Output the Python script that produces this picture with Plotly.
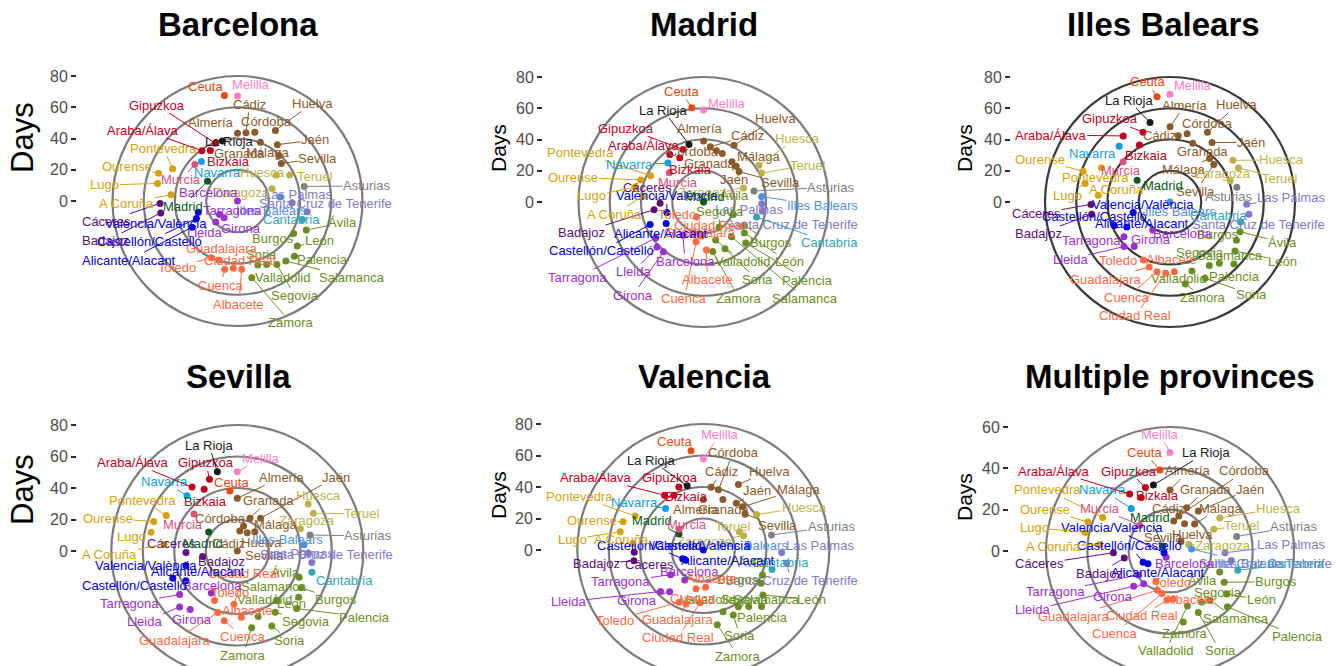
import math
import plotly.graph_objects as go

W, H = 1338, 666
FONT = "Liberation Sans, Arial, Helvetica, sans-serif"

# ---------------- categories (theta order of the polar chart) ----------------
provinces = ["Almería", "Cádiz", "Córdoba", "Granada", "Huelva", "Jaén", "Málaga", "Sevilla",
             "Huesca", "Teruel", "Zaragoza", "Asturias", "Illes Balears", "Las Palmas",
             "Santa Cruz de Tenerife", "Cantabria", "Ávila", "Burgos", "León", "Palencia",
             "Salamanca", "Segovia", "Soria", "Valladolid", "Zamora", "Albacete", "Ciudad Real",
             "Cuenca", "Guadalajara", "Toledo", "Barcelona", "Girona", "Lleida", "Tarragona",
             "Alicante/Alacant", "Castellón/Castelló", "Valencia/València", "Badajoz", "Cáceres",
             "A Coruña", "Lugo", "Ourense", "Pontevedra", "Madrid", "Murcia", "Navarra",
             "Araba/Álava", "Bizkaia", "Gipuzkoa", "La Rioja", "Ceuta", "Melilla"]
community = (["Andalucía"] * 8 + ["Aragón"] * 3 + ["Asturias", "Balears", "Canarias", "Canarias", "Cantabria"]
             + ["CyL"] * 9 + ["CLM"] * 5 + ["Cataluña"] * 4 + ["CValenciana"] * 3 + ["Extremadura"] * 2
             + ["Galicia"] * 4 + ["Madrid", "Murcia", "Navarra"] + ["PaisVasco"] * 3
             + ["La Rioja", "Ceuta", "Melilla"])
community_colors = {
    "Andalucía": "#8b5a2b", "Aragón": "#bdb24a", "Asturias": "#808080", "Balears": "#4f8fe6",
    "Canarias": "#8179c9", "Cantabria": "#35a5b8", "CyL": "#6b8e23", "CLM": "#ff6a45",
    "Cataluña": "#9b30d0", "CValenciana": "#0000e0", "Extremadura": "#5c1077", "Galicia": "#d4a20e",
    "Madrid": "#0b5a1b", "Murcia": "#e2507e", "Navarra": "#109de8", "PaisVasco": "#c0001c",
    "La Rioja": "#1a1a1a", "Ceuta": "#e84a10", "Melilla": "#ff7fc6",
}

# ---------------- values: days (radius) per panel, in the order above ----------------
days_barcelona = [43.3, 44.0, 45.4, 40.4, 51.3, 44.2, 39.4, 36.9, 29.8, 37.3, 23.5, 43.7, 27.5, 35.0,
                  45.2, 43.2, 47.8, 41.5, 47.9, 50.8, 49.3, 47.8, 44.7, 42.9, 49.9, 43.8, 43.1, 44.5,
                  39.6, 39.9, 0.0, 13.7, 19.4, 14.4, 33.6, 28.6, 26.1, 49.7, 49.6, 42.7, 52.4, 53.6,
                  46.4, 23.0, 36.0, 34.3, 39.5, 36.7, 39.7, 39.6, 68.0, 67.2]
days_madrid = [39.0, 35.7, 33.9, 33.3, 41.2, 31.5, 31.0, 29.9, 42.5, 41.5, 27.1, 33.1, 37.4, 37.3,
               38.3, 35.3, 20.6, 30.0, 32.8, 37.7, 28.6, 19.0, 32.9, 25.6, 32.3, 30.8, 21.8, 25.8,
               20.8, 10.6, 25.0, 40.9, 41.4, 38.3, 27.6, 37.1, 24.4, 32.0, 27.8, 39.0, 44.8, 42.6,
               37.8, 0.0, 28.8, 33.8, 37.3, 32.1, 36.1, 38.0, 60.8, 58.9]
days_baleares = [48.2, 42.8, 45.0, 40.3, 50.6, 46.6, 37.6, 36.9, 48.3, 48.9, 40.8, 43.8, 0.0, 49.1,
                 51.1, 47.0, 48.7, 49.1, 52.1, 57.0, 50.4, 47.8, 53.7, 46.3, 53.4, 44.7, 45.7, 45.4,
                 43.7, 40.9, 21.1, 36.6, 41.0, 36.9, 31.9, 38.7, 24.5, 50.7, 50.6, 46.1, 55.7, 59.0,
                 49.0, 25.2, 39.5, 48.3, 51.8, 41.4, 47.9, 52.4, 67.9, 68.9]
days_sevilla = [33.5, 12.8, 16.3, 22.3, 13.2, 25.5, 16.5, 0.0, 54.0, 53.9, 42.5, 47.3, 42.5, 45.1,
                47.9, 49.2, 42.7, 46.7, 48.8, 52.5, 40.6, 45.7, 52.4, 43.7, 49.6, 42.2, 33.8, 45.0,
                41.0, 34.6, 31.4, 47.7, 51.0, 45.9, 37.7, 44.5, 33.9, 22.3, 32.6, 46.7, 56.0, 56.3,
                50.4, 21.8, 36.2, 47.4, 49.7, 44.5, 48.9, 51.9, 38.4, 50.3]
days_valencia = [32.0, 40.2, 39.4, 34.4, 47.2, 36.3, 37.1, 35.0, 40.7, 25.6, 27.1, 44.3, 28.7, 49.8,
                 53.5, 45.4, 40.8, 42.3, 47.5, 51.6, 46.0, 42.3, 45.5, 41.2, 48.3, 23.7, 33.5, 25.1,
                 35.9, 36.5, 22.4, 34.1, 37.8, 26.0, 12.9, 14.2, 0.0, 44.6, 43.9, 45.0, 54.0, 54.0,
                 48.3, 18.5, 20.2, 35.6, 42.6, 39.4, 42.9, 42.0, 63.5, 57.8]
days_multiple = [29.5, 14.6, 17.4, 22.5, 14.9, 23.7, 17.7, 7.0, 28.9, 23.7, 9.6, 33.0, 10.5, 26.6,
                 30.0, 34.1, 26.1, 30.3, 34.5, 38.7, 30.6, 29.0, 32.8, 27.9, 35.0, 23.3, 23.8, 20.9,
                 19.9, 16.3, 3.6, 20.3, 24.5, 19.2, 12.3, 14.1, 3.0, 22.4, 27.4, 34.1, 42.0, 42.1,
                 36.4, 4.1, 19.2, 27.8, 33.8, 29.4, 32.9, 32.9, 39.5, 47.7]

panel_titles = ["Barcelona", "Madrid", "Illes Balears", "Sevilla", "Valencia", "Multiple provinces"]
tick_values = [[0, 20, 40, 60, 80]] * 5 + [[0, 20, 40, 60]]
ring_values = [[20, 40, 60, 80]] * 5 + [[20, 40, 60]]

# ---------------- label placement (repelled label centres, page pixels) ----------------
labels_barcelona = [(210.5, 122.3), (249.7, 104.3), (266.7, 121.7), (240, 153), (312.5, 103.3), (315, 140),
                    (268, 153), (318, 158.3), (263, 173), (315, 176.7), (242, 192), (366.7, 186), (271, 210),
                    (298, 195), (325, 204), (292, 220), (342.5, 222.7), (273, 238.5), (319, 241), (323, 259.3),
                    (352, 277.7), (295, 296), (262, 255), (282.5, 277.7), (290.7, 322.7), (239, 304),
                    (240, 260), (221, 285), (222, 248.5), (177.5, 267.3), (208, 192), (241, 228.5),
                    (204, 232.3), (233, 210), (129, 260), (149, 241.7), (155.8, 223.3), (106, 241),
                    (106, 221.7), (126.7, 203.3), (104.7, 185), (126.7, 166.7), (163.3, 148.3), (183, 206),
                    (181, 180), (218, 173), (143.5, 130), (229, 161), (157, 105), (229, 142), (205.7, 86),
                    (251, 85)]
labels_madrid = [(699.5, 128.3), (748, 136), (693, 151.7), (709, 163.3), (775, 118.3), (734, 179.3),
                 (758.5, 156.7), (780, 182.7), (797, 138.3), (808, 165), (706, 192.7), (831, 187.3),
                 (822.5, 205.7), (749, 210), (791.7, 224), (830, 242.7), (735, 195), (771, 242.7),
                 (789, 261.7), (807.5, 280), (805, 298.3), (720, 211.7), (757.5, 280), (742.5, 261.7),
                 (739, 298.3), (707.5, 280), (710, 225), (684.5, 298.3), (700, 232.7), (676.5, 214),
                 (685, 261.7), (633, 295), (633.5, 271.7), (577.5, 277.3), (661, 233.3), (601.5, 250.7),
                 (667, 196), (581.5, 232.7), (648, 187.3), (614.5, 214), (592, 196), (573.5, 177.3),
                 (580.5, 152.7), (705, 196), (678, 182.7), (630, 165), (644, 146), (691, 169.3),
                 (626, 128.3), (663, 110), (681, 91.7), (726.5, 103.3)]
labels_baleares = [(1185, 105), (1159.5, 136), (1208, 123.3), (1202, 151.7), (1236.7, 105), (1251, 142.3),
                   (1183.5, 170), (1196, 191), (1281.7, 160), (1280, 178.3), (1223, 173.3), (1229, 196.7),
                   (1180, 211.7), (1291, 197.3), (1258.5, 224), (1218.5, 215), (1282.5, 242.7), (1218, 234),
                   (1283, 261), (1234, 276), (1230, 256), (1200, 252.3), (1251, 294.3), (1178.5, 278.3),
                   (1203.5, 297.7), (1171, 260), (1135, 316), (1126.7, 297.3), (1106.5, 279), (1117.5, 260),
                   (1182.5, 233.3), (1151, 240), (1070.5, 259), (1091, 240), (1142.5, 223.3), (1095, 216.7),
                   (1143, 204), (1038.5, 234), (1036.5, 214), (1116.5, 190), (1067.5, 196), (1040, 159.3),
                   (1095.5, 177.3), (1162.5, 186), (1121, 171), (1092, 153.3), (1050.8, 135), (1146, 155),
                   (1110, 119), (1128.5, 100), (1147.5, 81.7), (1193, 86)]
labels_sevilla = [(281.7, 477.3), (228, 543.3), (221, 518.3), (268, 500.7), (261.7, 542.7), (336, 477.3),
                  (275, 524.3), (264, 555), (318, 496), (362.5, 514), (307, 520.7), (368, 536), (288, 539.3),
                  (300, 553.3), (326, 555), (344.7, 580.7), (286, 572.7), (336, 599.3), (291, 603.3),
                  (365, 617.3), (273.5, 586), (306.5, 621.7), (290, 640.7), (264, 599), (243, 655),
                  (248, 610.7), (244, 574), (243, 636.7), (175.5, 640), (230, 592.7), (212, 585),
                  (192.5, 620), (145, 621.7), (129, 603.3), (198, 571.7), (134, 585), (146, 565.7),
                  (222, 561.7), (171, 543.3), (110, 555), (132, 536.7), (107.5, 518.3), (143, 500),
                  (203, 543.3), (183, 524.3), (164, 481.7), (132.8, 462.7), (206, 501.7), (206, 462.7),
                  (209, 445), (231.7, 482.3), (261.3, 458.3)]
labels_valencia = [(696, 509.3), (722, 471.7), (733, 452.7), (724, 509.3), (769, 471), (757, 490.7),
                   (798, 489.3), (778, 526), (804, 507.3), (733, 526), (705, 541.7), (831, 526.7), (752, 545),
                   (820, 545), (791, 580.7), (780, 562.7), (752, 562.7), (738, 580), (812, 599.3),
                   (763, 617.3), (767, 599.3), (745, 599.3), (740, 636), (708, 599.3), (738, 656),
                   (711, 578.3), (678, 637.7), (693, 598.3), (678, 620), (615, 620), (689, 571.7), (637, 601),
                   (568, 601.7), (621, 581.7), (728, 560), (650, 545), (700, 545), (596, 564), (650, 564),
                   (621, 539.3), (572, 539.3), (592, 520.7), (580, 496.7), (652, 520.7), (687, 525),
                   (634, 502.7), (596, 477.7), (687, 496.7), (670, 477.7), (651, 460), (674, 441.7),
                   (720, 434.3)]
labels_multiple = [(1188, 471), (1168, 508.3), (1245, 471), (1206, 489.3), (1193, 534.3), (1250, 489.3),
                   (1220, 508.3), (1163.5, 537.7), (1278.5, 508.3), (1242.5, 526), (1223, 545), (1294, 526.7),
                   (1250, 563.3), (1291, 545), (1265, 563.3), (1296, 563.3), (1202.5, 580), (1276, 581.7),
                   (1261, 600), (1297.5, 636.7), (1236, 618.3), (1218, 592.7), (1220, 650.7), (1165.5, 650.7),
                   (1185, 633.3), (1190, 599.3), (1142, 616), (1115, 633.3), (1074, 616), (1172, 582.7),
                   (1185, 563.3), (1113, 596.7), (1032.5, 610), (1055, 591.7), (1158.5, 572.3),
                   (1130, 545.7), (1112, 527.7), (1099, 573.3), (1039.5, 564), (1053, 546), (1034, 527.7),
                   (1045, 509.3), (1047.5, 490), (1150, 517.3), (1100, 508.3), (1102.5, 490), (1054.5, 471),
                   (1157.5, 495.7), (1129, 471), (1206, 452.7), (1144.5, 452.3), (1160, 434.3)]

# ---------------- panel geometry (pixels) ----------------
panel_geom = [
    dict(cx=237.5, cy=201, s=1.5625, axis_x=77, ytop=40, ybot=345, ring="#7b7b7b", title_y=25,
         days_xy=(22, 138), days_size=31),
    dict(cx=703.5, cy=202, s=1.5625, axis_x=543, ytop=40, ybot=345, ring="#7b7b7b", title_y=25,
         days_xy=(498, 148), days_size=21),
    dict(cx=1170, cy=202, s=1.5625, axis_x=1011, ytop=40, ybot=345, ring="#3a3a3a", title_y=25,
         days_xy=(964, 148), days_size=21),
    dict(cx=237.3, cy=551, s=1.575, axis_x=77, ytop=395, ybot=666, ring="#7b7b7b", title_y=376,
         days_xy=(22, 490), days_size=31),
    dict(cx=703.3, cy=550, s=1.575, axis_x=542, ytop=395, ybot=666, ring="#7b7b7b", title_y=376,
         days_xy=(498, 495), days_size=21),
    dict(cx=1170, cy=551, s=2.067, axis_x=1009, ytop=395, ybot=666, ring="#7b7b7b", title_y=376,
         days_xy=(964, 497), days_size=21),
]
title_x = [238, 704, 1163, 238, 704, 1170]

panel_days = [days_barcelona, days_madrid, days_baleares, days_sevilla, days_valencia, days_multiple]
panel_labels = [labels_barcelona, labels_madrid, labels_baleares, labels_sevilla, labels_valencia,
                labels_multiple]

colors = [community_colors[c] for c in community]
n = len(provinces)
theta = [math.radians(90 - i * 360.0 / (n - 1)) for i in range(n)]

fig = go.Figure()
layout = dict(width=W, height=H, margin=dict(l=0, r=0, t=0, b=0), paper_bgcolor="white",
              plot_bgcolor="rgba(0,0,0,0)", showlegend=False, font=dict(family=FONT))
shapes, annotations = [], []

for k in range(6):
    g = panel_geom[k]
    xa = "x" if k == 0 else f"x{k + 1}"
    ya = "y" if k == 0 else f"y{k + 1}"
    xkey = "xaxis" if k == 0 else f"xaxis{k + 1}"
    ykey = "yaxis" if k == 0 else f"yaxis{k + 1}"
    cx, cy, s = g["cx"], g["cy"], g["s"]
    half = cx - g["axis_x"]
    layout[xkey] = dict(domain=[g["axis_x"] / W, (cx + half) / W], range=[-half / s, half / s],
                        visible=False, anchor=ya, fixedrange=True)
    layout[ykey] = dict(domain=[1 - g["ybot"] / H, 1 - g["ytop"] / H],
                        range=[(cy - g["ybot"]) / s, (cy - g["ytop"]) / s], anchor=xa,
                        tickvals=tick_values[k], ticks="outside", ticklen=5, tickwidth=2,
                        tickcolor="#2e2340", tickfont=dict(size=16, color="#4d4d4d", family=FONT),
                        showgrid=False, zeroline=False, showline=False, fixedrange=True)
    for r in ring_values[k]:
        shapes.append(dict(type="circle", xref=xa, yref=ya, x0=-r, x1=r, y0=-r, y1=r,
                           line=dict(color=g["ring"], width=2.2), layer="below"))

    days = panel_days[k]
    xs = [d * math.cos(t) for d, t in zip(days, theta)]
    ys = [d * math.sin(t) for d, t in zip(days, theta)]
    fig.add_trace(go.Scatter(x=xs, y=ys, xaxis=xa, yaxis=ya, mode="markers",
                             marker=dict(size=7, color=colors, line=dict(width=0)),
                             text=provinces, hoverinfo="text", cliponaxis=False))

    for i in range(n):
        px = cx + xs[i] * s
        py = cy - ys[i] * s
        lx, ly = panel_labels[k][i]
        ax, ay = lx - px, ly - py
        w = len(provinces[i]) * 6.7
        ex = max(0.0, abs(ax) - w / 2)
        ey = max(0.0, abs(ay) - 7.5)
        show = math.hypot(ex, ey) > 6
        annotations.append(dict(x=xs[i], y=ys[i], xref=xa, yref=ya, text=provinces[i],
                                showarrow=True, ax=ax, ay=ay, axref="pixel", ayref="pixel",
                                arrowhead=0, arrowwidth=1, standoff=0,
                                arrowcolor=colors[i] if show else "rgba(0,0,0,0)",
                                font=dict(size=13, color=colors[i], family=FONT),
                                xanchor="center", yanchor="middle", borderpad=0))

    annotations.append(dict(x=title_x[k] / W, y=1 - g["title_y"] / H, xref="paper", yref="paper",
                            text=f"<b>{panel_titles[k]}</b>", showarrow=False,
                            font=dict(size=33, color="black", family=FONT),
                            xanchor="center", yanchor="middle"))
    dx, dy = g["days_xy"]
    annotations.append(dict(x=dx / W, y=1 - dy / H, xref="paper", yref="paper", text="Days",
                            showarrow=False, textangle=-90,
                            font=dict(size=g["days_size"], color="black", family=FONT),
                            xanchor="center", yanchor="middle"))

layout["shapes"] = shapes
layout["annotations"] = annotations
fig.update_layout(**layout)
fig.write_html("out.html", config={"displayModeBar": False, "staticPlot": True})

# remove the browser's default page margin so the figure sits at the top-left corner
with open("out.html", encoding="utf-8") as f:
    html = f.read()
html = html.replace("<head>", "<head><style>html,body{margin:0;padding:0;overflow:hidden;}</style>", 1)
with open("out.html", "w", encoding="utf-8") as f:
    f.write(html)
